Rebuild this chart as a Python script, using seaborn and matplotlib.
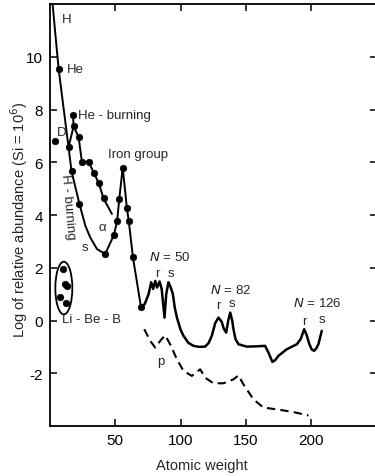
import matplotlib
matplotlib.use("Agg")
import matplotlib.pyplot as plt
from matplotlib.patches import Ellipse
import seaborn as sns
import pandas as pd

# ---------------- data ----------------
# H-burning branch: H -> He -> ... -> s-curve minimum
hburn_x = [1.6, 6.6, 14.2, 16.5, 22.5, 27.1, 30.8, 36.0, 42.3]
hburn_y = [12.2, 9.54, 6.57, 5.66, 4.43, 3.59, 3.15, 2.71, 2.52]

# He-burning branch
heburn_x = [17.6, 18.1, 21.9, 24.5, 29.5, 33.6, 37.4, 41.0, 47.4]
heburn_y = [7.80, 7.37, 6.95, 6.00, 6.02, 5.60, 5.20, 4.63, 4.04]
link_x = [18.1, 14.2]
link_y = [7.37, 6.57]

# alpha / iron group branch
iron_x = [42.3, 48.9, 51.4, 53.0, 55.7, 58.9, 60.3, 63.5, 69.6]
iron_y = [2.52, 3.24, 3.76, 4.60, 5.80, 4.25, 3.78, 2.40, 0.53]

# heavy elements (r, s processes)
heavy_x = [69.6, 72.5, 75.5, 77.5, 79.0, 80.6, 82.0, 83.9, 85.5, 87.7, 89.0, 90.7,
           92.5, 94.1, 95.5, 97.2, 100.0, 102.2, 106.0, 109.9, 114.0, 118.8, 121.5,
           123.9, 126.5, 129.0, 131.5, 133.0, 134.9, 136.5, 138.0, 139.5, 140.5,
           142.0, 144.3, 150.7, 158.0, 164.7, 167.3, 170.3, 172.5, 174.9, 181.3,
           189.0, 192.0, 194.6, 196.5, 198.6, 200.5, 202.2, 204.0, 205.5, 208.1]
heavy_y = [0.53, 0.62, 1.00, 1.45, 1.20, 1.50, 1.25, 1.48, 1.20, 0.11, 1.00, 1.45,
           1.25, 1.00, 0.50, 0.11, -0.35, -0.58, -0.85, -0.96, -1.00, -0.99, -0.85,
           -0.58, -0.10, 0.11, -0.05, -0.30, -0.46, 0.00, 0.30, 0.00, -0.33,
           -0.70, -0.90, -0.99, -0.98, -0.96, -1.22, -1.57, -1.50, -1.34, -1.09,
           -0.90, -0.70, -0.33, -0.55, -0.90, -1.10, -1.15, -1.05, -0.90, -0.39]

# p-process (dashed)
p_x = [72.2, 76.7, 80.6, 84.4, 88.2, 92.0, 97.2, 102.2, 108.6, 115.0, 118.8,
       125.2, 132.8, 140.5, 144.3, 148.1, 155.8, 163.4, 173.7, 186.4, 197.9]
p_y = [-0.33, -0.77, -1.03, -0.77, -0.56, -0.90, -1.47, -1.91, -2.10, -1.85, -2.17,
       -2.38, -2.38, -2.23, -2.08, -2.42, -2.99, -3.30, -3.37, -3.47, -3.60]

# filled dots
dot_x = [6.6, 14.2, 16.5, 22.5, 42.3, 3.5,
         17.6, 18.1, 21.9, 24.5, 29.5, 33.6, 37.4, 41.0,
         48.9, 51.4, 53.0, 55.7, 58.9, 60.3, 63.5, 69.6,
         9.7, 11.2, 13.0, 7.9, 12.2]
dot_y = [9.54, 6.57, 5.66, 4.43, 2.52, 6.80,
         7.80, 7.37, 6.95, 6.00, 6.02, 5.60, 5.20, 4.63,
         3.24, 3.76, 4.60, 5.80, 4.25, 3.78, 2.40, 0.53,
         1.97, 1.38, 1.29, 0.91, 0.68]

x_ticks = [50, 100, 150, 200]
y_ticks = [-2, 0, 2, 4, 6, 8, 10]

# ---------------- style ----------------
sns.set_style("ticks")
plt.rcParams["font.family"] = ["Liberation Sans", "DejaVu Sans"]
plt.rcParams["axes.unicode_minus"] = False

fig = plt.figure(figsize=(3.75, 4.77), dpi=100)
ax = fig.add_axes([0.1333, 0.1048, 0.8707, 0.8847])

lw = 1.4
kw = dict(ax=ax, sort=False, color="black", linewidth=lw, legend=False)
sns.lineplot(data=pd.DataFrame({"x": hburn_x, "y": hburn_y}), x="x", y="y", **kw)
sns.lineplot(data=pd.DataFrame({"x": heburn_x, "y": heburn_y}), x="x", y="y", **kw)
sns.lineplot(data=pd.DataFrame({"x": link_x, "y": link_y}), x="x", y="y", **kw)
sns.lineplot(data=pd.DataFrame({"x": iron_x, "y": iron_y}), x="x", y="y", **kw)
sns.lineplot(data=pd.DataFrame({"x": heavy_x, "y": heavy_y}), x="x", y="y",
             ax=ax, sort=False, color="black", linewidth=1.8, legend=False)
sns.lineplot(data=pd.DataFrame({"x": p_x, "y": p_y}), x="x", y="y",
             ax=ax, sort=False, color="black", linewidth=1.5, legend=False,
             dashes=False, linestyle=(0, (4, 2.5)))
sns.scatterplot(x=dot_x, y=dot_y, ax=ax, color="black", s=22, edgecolor="black",
                linewidth=0.5, zorder=5)

ax.add_patch(Ellipse((10.6, 1.23), 13.0, 2.0, angle=0, fill=False,
                     edgecolor="black", linewidth=1.3))

# ---------------- annotations ----------------
fs = 9.5
ax.text(9.2, 11.42, "H", fontsize=fs, va="center", ha="left")
ax.text(13.0, 9.55, "He", fontsize=fs, va="center", ha="left")
ax.text(5.3, 7.14, "D", fontsize=fs, va="center", ha="left")
ax.text(21.1, 7.8, "He - burning", fontsize=fs, va="center", ha="left")
ax.text(44.8, 6.32, "Iron group", fontsize=fs, va="center", ha="left")
ax.text(13.6, 4.32, "H - burning", fontsize=fs, va="center", ha="center",
        rotation=275, rotation_mode="anchor")
ax.text(27.0, 2.77, "s", fontsize=fs, va="center", ha="center")
ax.text(39.8, 3.53, "\u03b1", fontsize=fs, va="center", ha="center")
ax.text(9.2, 0.05, "Li - Be - B", fontsize=fs, va="center", ha="left")
ax.text(75.5, 2.42, "$N$ = 50", fontsize=fs, va="center", ha="left")
ax.text(82.3, 1.82, "r", fontsize=fs, va="center", ha="center")
ax.text(92.6, 1.82, "s", fontsize=fs, va="center", ha="center")
ax.text(122.8, 1.19, "$N$ = 82", fontsize=fs, va="center", ha="left")
ax.text(129.0, 0.58, "r", fontsize=fs, va="center", ha="center")
ax.text(139.3, 0.66, "s", fontsize=fs, va="center", ha="center")
ax.text(186.4, 0.68, "$N$ = 126", fontsize=fs, va="center", ha="left")
ax.text(194.8, -0.02, "r", fontsize=fs, va="center", ha="center")
ax.text(208.1, 0.05, "s", fontsize=fs, va="center", ha="center")
ax.text(85.2, -1.53, "p", fontsize=fs, va="center", ha="center")

# ---------------- axes ----------------
ax.set_xlim(0, 250)
ax.set_ylim(-4, 12)
ax.set_xticks(x_ticks)
ax.set_xticklabels([str(v) for v in x_ticks])
ax.set_yticks(y_ticks)
ax.set_yticklabels([str(v) for v in y_ticks])
ax.tick_params(direction="in", length=5, width=1.1, top=True, right=True,
               labelsize=11, pad=5, colors="black")
for sp in ax.spines.values():
    sp.set_linewidth(1.3)
    sp.set_color("black")
ax.set_xlabel("Atomic weight", fontsize=10.5)
ax.set_ylabel("Log of relative abundance (Si = 10$^6$)", fontsize=10.5)
ax.xaxis.set_label_coords(0.465, -0.075)
ax.yaxis.set_label_coords(-0.062, 0.49)

fig.savefig("out.png", dpi=100)
